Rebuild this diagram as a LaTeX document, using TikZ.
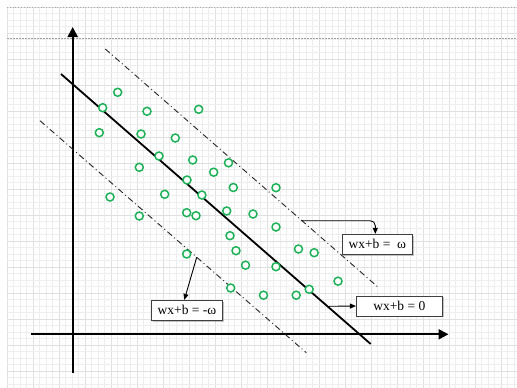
\documentclass[tikz,border=0pt]{standalone}
\usepackage{fontspec}
\setmainfont{Liberation Serif}
\usetikzlibrary{arrows.meta,shadows}
\definecolor{ptgreen}{RGB}{30,178,88}
\tikzset{
  gridminor/.style={draw=gray!13, line width=0.5pt},
  gridmajor/.style={draw=gray!24, line width=0.5pt},
  axis/.style={line width=2.2pt, -{Triangle[length=10pt,width=10pt]}},
  hyper/.style={line width=1.8pt},
  margin/.style={line width=0.9pt, black!85, dash pattern=on 6pt off 3pt on 1pt off 3pt},
  pt/.style={circle, draw=ptgreen, fill=white, line width=1.5pt, minimum size=8pt, inner sep=0pt},
  lbl/.style={draw=black!75, line width=0.8pt, fill=white, minimum height=20pt, inner sep=2pt,
    font=\fontsize{13.5}{16}\selectfont, drop shadow={shadow xshift=1.2pt, shadow yshift=-1.2pt, opacity=0.45}},
  conn/.style={line width=0.9pt, -{Triangle[length=6pt,width=5pt]}}
}
\begin{document}
\begin{tikzpicture}[x=1pt,y=-1pt]
\useasboundingbox (0,0) rectangle (517,388);
\fill[white] (0,0) rectangle (517,388);
% grid
\foreach \i in {0,...,78} {
  \pgfmathsetmacro{\gx}{7+6.5*\i}
  \pgfmathtruncatemacro{\m}{mod(\i,4)}
  \ifnum\m=0 \draw[gridmajor] (\gx,7) -- (\gx,388); \else \draw[gridminor] (\gx,7) -- (\gx,388); \fi
}
\foreach \j in {0,...,58} {
  \pgfmathsetmacro{\gy}{7+6.5*\j}
  \pgfmathtruncatemacro{\m}{mod(\j,4)}
  \ifnum\m=0 \draw[gridmajor] (7,\gy) -- (517,\gy); \else \draw[gridminor] (7,\gy) -- (517,\gy); \fi
}
\draw[gray!70, line width=0.8pt, dotted] (7,7) -- (517,7);
\draw[gray!75, line width=0.7pt, dash pattern=on 2pt off 1pt] (7,38.5) -- (517,38.5);

% axes
\coordinate (yb) at (72.7,372.7);
\coordinate (yt) at (72.7,27);
\coordinate (xl) at (30.7,334.3);
\coordinate (xr) at (448.5,334.3);
\draw[axis] (yb) -- (yt);
\draw[axis] (xl) -- (xr);

% lines
\coordinate (h1) at (61,74);
\coordinate (h2) at (370.7,344);
\coordinate (u1) at (105.3,49);
\coordinate (u2) at (378.7,287.7);
\coordinate (l1) at (40,120.7);
\coordinate (l2) at (306.3,352.7);
\draw[hyper] (h1) -- (h2);
\draw[margin] (u1) -- (u2);
\draw[margin] (l1) -- (l2);

% points
\foreach \x/\y [count=\i] in {
117.7/92.3, 102.7/107.7, 147/111.3, 198.7/109.3, 99.3/132.7, 141/134, 175.3/138,
159/156, 192.7/160, 228.5/162.8, 139.3/167.3, 213.7/172.2, 187/180, 233.3/187.5,
276/187.7, 110/197, 164.7/194.3, 201.9/195, 139.3/216, 186.7/212.7, 196/215.7,
226.7/211, 253/214, 276/227, 230/235.7, 236/250.7, 298.5/249, 314.2/252.7,
186.7/254, 245.5/265.2, 276/266.7, 338/281.2, 230.7/288, 263.5/295.2, 296.2/295.2,
309.2/289.3}
  \node[pt] (c\i) at (\x,\y) {};

% labels
\node[lbl, minimum width=70.7pt] (wo) at (377.3,244.3) {wx+b =\ \ ω};
\node[lbl, minimum width=86pt] (wz) at (399.3,306) {wx+b = 0};
\node[lbl, minimum width=70.6pt] (wm) at (187,310.3) {wx+b = -ω};

\coordinate (au) at (301.3,220.7);
\coordinate (ah) at (329,306.3);
\coordinate (al) at (196.7,257.3);
\draw[conn, rounded corners=5pt] (au) -| ([xshift=-2pt]wo.north);
\draw[conn] (ah) -- (wz.west);
\draw[conn] (al) -- ([xshift=-2.7pt]wm.north);
\end{tikzpicture}
\end{document}
